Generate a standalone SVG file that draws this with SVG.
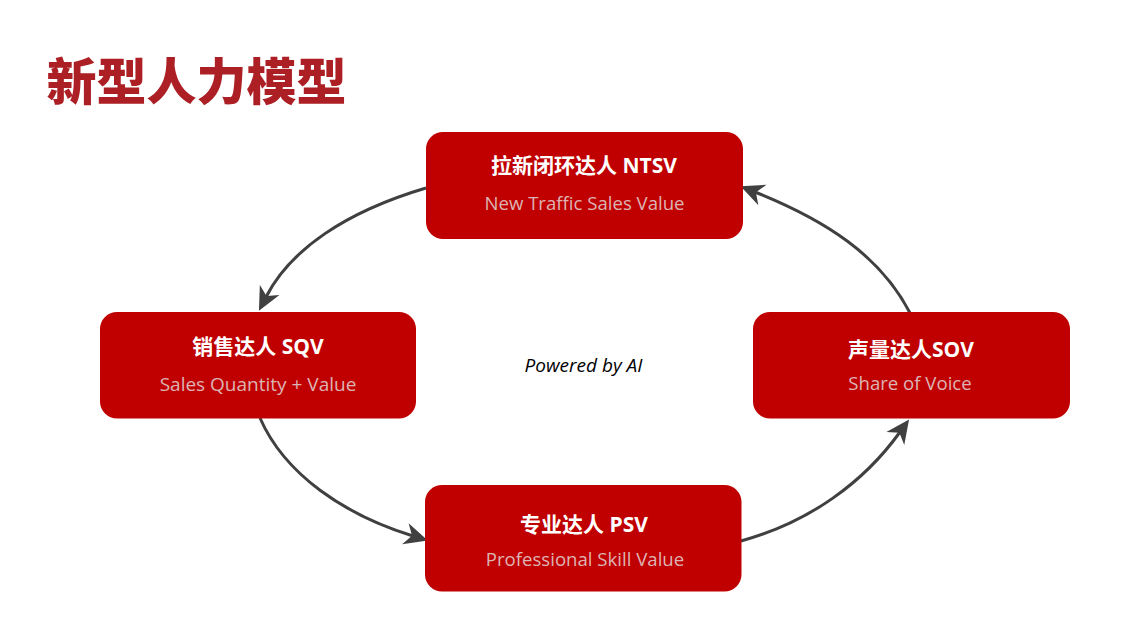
<svg xmlns="http://www.w3.org/2000/svg" width="1128" height="640" viewBox="0 0 1128 640">
<style>
text{font-family:"Open Sans","Noto Sans CJK SC",sans-serif;text-anchor:middle}
.box{fill:#C00000}
.t{fill:#fff;font-size:21px;font-weight:700}
.s{fill:#DDB4B4;font-size:18.600px}
.c{fill:none;stroke:#404040;stroke-width:3}
</style>
<defs>
<marker id="a" markerUnits="userSpaceOnUse" markerWidth="24" markerHeight="24" viewBox="0 0 24 24" refX="8" refY="12" orient="auto">
<path d="M23.5 12L0 1L7 12L0 23Z" fill="#404040"/>
</marker>
</defs>
<rect width="1128" height="640" fill="#fff"/>
<text id="title" x="196.500" y="100" style="font-family:'Noto Sans CJK SC',sans-serif;font-size:50px;font-weight:900;fill:#AC1F24">新型人力模型</text>
<g id="connectors">
<path class="c" marker-end="url(#a)" d="M426 188C345 212 290 250 266 297"/>
<path class="c" marker-end="url(#a)" d="M910 313C880 255 825 220 755 192"/>
<path class="c" marker-end="url(#a)" d="M260 418C285 475 345 515 413 536"/>
<path class="c" marker-end="url(#a)" d="M741 541C810 522 864 482 900 432"/>
</g>
<g id="ntsv"><rect class="box" x="426" y="132" width="317" height="107" rx="17"/>
<text class="t" x="584" y="173">拉新闭环达人 NTSV</text><text class="s" x="584.500" y="210">New Traffic Sales Value</text></g>
<g id="sqv"><rect class="box" x="100" y="312" width="316" height="106.500" rx="17"/>
<text class="t" x="258" y="354">销售达人 SQV</text><text class="s" x="258" y="391" style="font-size:19px">Sales Quantity + Value</text></g>
<g id="sov"><rect class="box" x="753" y="312" width="317" height="106.500" rx="17"/>
<text class="t" x="911" y="357">声量达人SOV</text><text class="s" x="910" y="390">Share of Voice</text></g>
<g id="psv"><rect class="box" x="425" y="485" width="316.500" height="106.500" rx="17"/>
<text class="t" x="584" y="531.500">专业达人 PSV</text><text class="s" x="585" y="566">Professional Skill Value</text></g>
<text id="powered" x="583.500" y="372" style="font-size:19px;font-style:italic;fill:#000">Powered by AI</text>
</svg>
